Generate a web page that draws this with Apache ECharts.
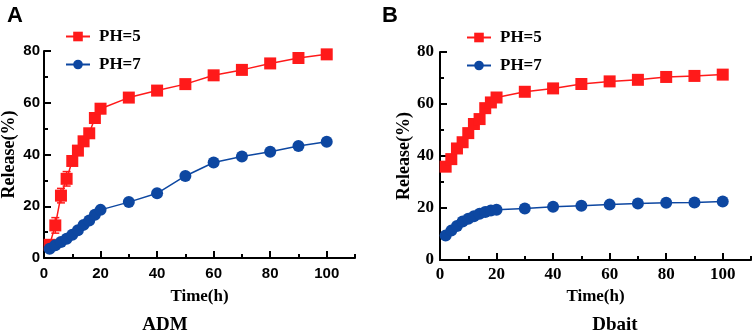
<!DOCTYPE html>
<html>
<head>
<meta charset="utf-8">
<script src="https://cdn.jsdelivr.net/npm/echarts@6/dist/echarts.min.js"></script>
<style>
  html, body { margin: 0; padding: 0; background: #fff; }
  #main { width: 754px; height: 331px; }
</style>
</head>
<body>
<div id="main"></div>
<script>
// Time points (h)
var timeH = [2, 4, 6, 8, 10, 12, 14, 16, 18, 20, 30, 40, 50, 60, 70, 80, 90, 100];

// Panel A: ADM release (%)
var admPH5 = [5.1, 12.6, 24.1, 30.6, 37.5, 41.5, 45.1, 48.2, 54.1, 57.7, 62.0, 64.7, 67.2, 70.6, 72.7, 75.2, 77.3, 78.7];
var admPH5Err = [1.0, 3.0, 2.8, 2.8, 1.2, 1.0, 1.0, 1.2, 1.0, 1.8, 0.8, 0.6, 0.6, 0.6, 0.6, 0.6, 0.6, 0.6];
var admPH7 = [3.6, 4.9, 6.2, 7.4, 9.0, 10.7, 12.8, 14.5, 16.7, 18.6, 21.6, 25.0, 31.7, 36.9, 39.2, 41.1, 43.3, 44.9];

// Panel B: Dbait release (%)
var dbaitPH5 = [35.9, 38.8, 42.9, 45.3, 48.8, 52.3, 54.2, 58.4, 60.6, 62.5, 64.7, 66.0, 67.7, 68.7, 69.3, 70.4, 70.8, 71.3];
var dbaitPH7 = [9.4, 11.3, 13.1, 14.8, 15.9, 16.8, 17.8, 18.5, 19.0, 19.3, 19.8, 20.5, 20.9, 21.3, 21.7, 22.0, 22.1, 22.5];

// major tick positions (labelled), minor ticks every 10
var xMajor = [0, 20, 40, 60, 80, 100];
var yMajor = [0, 20, 40, 60, 80];

var RED = '#ff1a1a';
var BLUE = '#0d47a1';
var SERIF = '"Liberation Serif", "DejaVu Serif", serif';
var SANS = '"Liberation Sans", Arial, sans-serif';

function pairs(ys) {
  return timeH.map(function (t, i) { return [t, ys[i]]; });
}

function tickFmt(v) { return v % 20 === 0 ? String(v) : ''; }

var nameStyle = { fontFamily: SERIF, fontWeight: 'bold', color: '#000' };

function xAxisFor(idx, labelFont, labelSize, margin, nameGap) {
  return {
    gridIndex: idx, type: 'value', position: 'bottom', min: 0, max: 110, interval: 10,
    name: 'Time(h)', nameLocation: 'middle', nameGap: nameGap,
    nameTextStyle: Object.assign({ fontSize: 17 }, nameStyle),
    axisLine: { onZero: false, lineStyle: { color: '#000', width: 2 } },
    axisTick: { inside: true, length: 4, lineStyle: { color: '#000', width: 2 } },
    axisLabel: { fontFamily: labelFont, fontWeight: 'bold', fontSize: labelSize, color: '#000', margin: margin, formatter: tickFmt },
    splitLine: { show: false }
  };
}

function yAxisFor(idx, labelFont, labelSize, margin) {
  return {
    gridIndex: idx, type: 'value', position: 'left', min: 0, max: 80, interval: 10,
    name: 'Release(%)', nameLocation: 'middle', nameGap: 26,
    nameTextStyle: Object.assign({ fontSize: 18 }, nameStyle),
    axisLine: { show: true, onZero: false, lineStyle: { color: '#000', width: 2 } },
    axisTick: { inside: true, length: 4, lineStyle: { color: '#000', width: 2 } },
    axisLabel: { fontFamily: labelFont, fontWeight: 'bold', fontSize: labelSize, color: '#000', margin: margin, formatter: tickFmt },
    splitLine: { show: false }
  };
}

// overlay axis that only draws the longer major ticks
function majorAxis(idx, pos, max, values) {
  return {
    gridIndex: idx, type: 'value', position: pos, min: 0, max: max, interval: 20,
    axisLine: { show: false, onZero: false },
    axisTick: { show: true, inside: true, length: 7, customValues: values, lineStyle: { color: '#000', width: 2 } },
    axisLabel: { show: false },
    splitLine: { show: false }
  };
}

function lineSeries(name, idx, ys, color, symbol, size) {
  return {
    name: name, type: 'line', xAxisIndex: idx, yAxisIndex: idx,
    data: pairs(ys), symbol: symbol, symbolSize: size,
    itemStyle: { color: color }, lineStyle: { color: color, width: 1.5 },
    z: 3
  };
}

// error bars drawn from the series values
function errSeries(idx, ys, errs, color) {
  return {
    type: 'custom', xAxisIndex: idx, yAxisIndex: idx, z: 2, silent: true,
    data: timeH.map(function (t, i) { return [t, ys[i] - errs[i], ys[i] + errs[i]]; }),
    renderItem: function (params, api) {
      var lo = api.coord([api.value(0), api.value(1)]);
      var hi = api.coord([api.value(0), api.value(2)]);
      var w = 4;
      var st = { stroke: color, lineWidth: 1.5 };
      return {
        type: 'group',
        children: [
          { type: 'line', shape: { x1: lo[0], y1: lo[1], x2: hi[0], y2: hi[1] }, style: st },
          { type: 'line', shape: { x1: lo[0] - w, y1: lo[1], x2: lo[0] + w, y2: lo[1] }, style: st },
          { type: 'line', shape: { x1: hi[0] - w, y1: hi[1], x2: hi[0] + w, y2: hi[1] }, style: st }
        ]
      };
    }
  };
}

function legendFor(left, top) {
  return {
    orient: 'vertical', left: left, top: top, itemGap: 11,
    itemWidth: 24, itemHeight: 12,
    data: ['PH=5', 'PH=7'],
    textStyle: { fontFamily: SERIF, fontSize: 17, fontWeight: 'bold', color: '#000', padding: [0, 0, 0, 4] }
  };
}

var chart = echarts.init(document.getElementById('main'));

var option = {
  backgroundColor: '#fff',
  animation: false,
  title: [
    { text: 'A', left: 2, top: 0, textStyle: { fontFamily: SANS, fontWeight: 'bold', fontSize: 22, color: '#000' } },
    { text: 'B', left: 377, top: 0, textStyle: { fontFamily: SANS, fontWeight: 'bold', fontSize: 22, color: '#000' } },
    { text: 'ADM', left: 160, top: 311, textAlign: 'center', textStyle: { fontFamily: SERIF, fontWeight: 'bold', fontSize: 19, color: '#000' } },
    { text: 'Dbait', left: 610, top: 311, textAlign: 'center', textStyle: { fontFamily: SERIF, fontWeight: 'bold', fontSize: 19, color: '#000' } }
  ],
  legend: [
    legendFor(60, 23),
    legendFor(461, 24)
  ],
  grid: [
    { left: 44, top: 51, width: 311, height: 207, outerBoundsMode: 'none' },
    { left: 440, top: 52, width: 311, height: 208, outerBoundsMode: 'none' }
  ],
  xAxis: [
    xAxisFor(0, SANS, 15, 8, 30),
    xAxisFor(1, SERIF, 17, 6, 27),
    majorAxis(0, 'bottom', 110, xMajor),
    majorAxis(1, 'bottom', 110, xMajor)
  ],
  yAxis: [
    yAxisFor(0, SANS, 15, 4),
    yAxisFor(1, SERIF, 17, 6),
    majorAxis(0, 'left', 80, yMajor),
    majorAxis(1, 'left', 80, yMajor)
  ],
  series: [
    errSeries(0, admPH5, admPH5Err, RED),
    lineSeries('PH=5', 0, admPH5, RED, 'rect', 12),
    lineSeries('PH=7', 0, admPH7, BLUE, 'circle', 12),
    lineSeries('PH=5', 1, dbaitPH5, RED, 'rect', 12),
    lineSeries('PH=7', 1, dbaitPH7, BLUE, 'circle', 12)
  ]
};

chart.setOption(option);
</script>
</body>
</html>
